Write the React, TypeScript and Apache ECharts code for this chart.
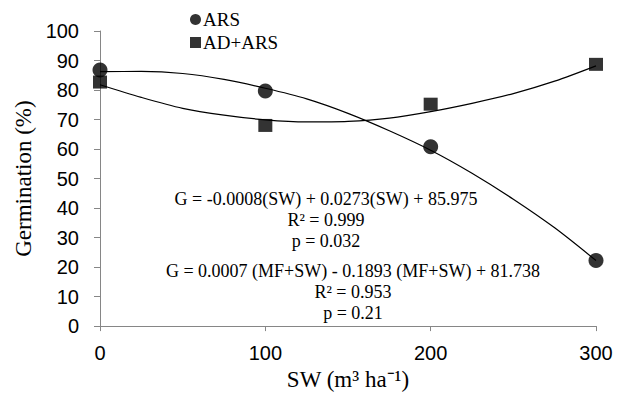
import React, { useEffect, useRef } from "react";
import * as echarts from "echarts";

const xTicks = [0, 100, 200, 300];
const sw = [0, 100, 200, 300];
const arsValues = [86.8, 79.7, 60.8, 22.2];
const adArsValues = [82.7, 68.0, 75.2, 88.7];

// trend curves
const trendX = [0, 25, 50, 75, 100, 125, 150, 175, 200, 225, 250, 275, 300];
const arsTrend = [86.2, 86.3, 85.6, 83.6, 80.6, 77.0, 72.1, 66.2, 59.6, 51.8, 43.0, 33.3, 22.2];
const adArsTrend = [81.8, 77.5, 73.8, 71.5, 69.9, 69.2, 69.4, 70.5, 72.7, 75.5, 78.8, 83.0, 88.2];

const annotations1 = [
  "G = -0.0008(SW) + 0.0273(SW) + 85.975",
  "R\u00B2 = 0.999",
  "p = 0.032",
];
const annotations2 = [
  "G = 0.0007 (MF+SW) - 0.1893 (MF+SW) + 81.738",
  "R\u00B2 = 0.953",
  "p = 0.21",
];

const SERIF = "'Liberation Serif', 'Times New Roman', serif";
const SANS = "'Liberation Sans', Arial, sans-serif";

export default function App() {
  const ref = useRef<HTMLDivElement>(null);
  useEffect(() => {
    if (!ref.current) return;
    const chart = echarts.init(ref.current, undefined, { renderer: "svg" });
    const pair = (xs: number[], ys: number[]) => xs.map((x, i) => [x, ys[i]]);
    const axisLineColor = "#868686";
    const ann1Y = [199, 220, 241];
    const ann2Y = [271, 292, 313];
    const graphics: any[] = [];
    annotations1.forEach((t, i) =>
      graphics.push({
        type: "text",
        x: 326,
        y: ann1Y[i],
        style: { text: t, fill: "#000", font: `18px ${SERIF}`, align: "center", verticalAlign: "middle" },
      })
    );
    annotations2.forEach((t, i) =>
      graphics.push({
        type: "text",
        x: 353,
        y: ann2Y[i],
        style: { text: t, fill: "#000", font: `18px ${SERIF}`, align: "center", verticalAlign: "middle" },
      })
    );
    chart.setOption({
      animation: false,
      backgroundColor: "#fff",
      grid: { left: 100, right: 30, top: 31, bottom: 63, containLabel: false },
      legend: {
        orient: "vertical",
        left: 190,
        top: 10,
        padding: 0,
        itemWidth: 11,
        itemHeight: 11,
        itemGap: 4,
        data: [
          { name: "ARS", icon: "circle" },
          { name: "AD+ARS", icon: "rect" },
        ],
        textStyle: { fontFamily: SERIF, fontSize: 19, color: "#000", padding: [0, 0, 0, -3] },
      },
      xAxis: {
        type: "value",
        min: 0,
        max: 300,
        interval: 100,
        name: "SW (m\u00B3 ha\u207B\u00B9)",
        nameLocation: "middle",
        nameGap: 38,
        nameTextStyle: { fontFamily: SERIF, fontSize: 23, color: "#000" },
        axisLine: { lineStyle: { color: axisLineColor, width: 1 } },
        axisTick: { show: true, length: 5, lineStyle: { color: axisLineColor } },
        axisLabel: { margin: 17, fontFamily: SANS, fontSize: 20, color: "#000" },
        splitLine: { show: false },
        data: xTicks,
      },
      yAxis: {
        type: "value",
        min: 0,
        max: 100,
        interval: 10,
        name: "Germination (%)",
        nameLocation: "middle",
        nameGap: 63,
        nameTextStyle: { fontFamily: SERIF, fontSize: 23, color: "#000" },
        axisLine: { show: true, lineStyle: { color: axisLineColor, width: 1 } },
        axisTick: { show: true, length: 6, lineStyle: { color: axisLineColor } },
        axisLabel: { margin: 21, fontFamily: SANS, fontSize: 20, color: "#000" },
        splitLine: { show: false },
      },
      series: [
        {
          type: "line",
          data: pair(trendX, arsTrend),
          smooth: 0.3,
          showSymbol: false,
          symbol: "none",
          lineStyle: { color: "#000", width: 1.2 },
          silent: true,
          z: 1,
        },
        {
          type: "line",
          data: pair(trendX, adArsTrend),
          smooth: 0.3,
          showSymbol: false,
          symbol: "none",
          lineStyle: { color: "#000", width: 1.2 },
          silent: true,
          z: 1,
        },
        {
          name: "ARS",
          type: "scatter",
          data: pair(sw, arsValues),
          symbol: "circle",
          symbolSize: 15,
          itemStyle: { color: "#000" },
          z: 3,
        },
        {
          name: "AD+ARS",
          type: "scatter",
          data: pair(sw, adArsValues),
          symbol: "rect",
          symbolSize: [14, 13],
          itemStyle: { color: "#000" },
          z: 3,
        },
      ],
      graphic: graphics,
    });
    return () => chart.dispose();
  }, []);
  return (
    <div
      ref={ref}
      style={{ position: "absolute", left: 0, top: 0, width: 626, height: 396 }}
    />
  );
}
